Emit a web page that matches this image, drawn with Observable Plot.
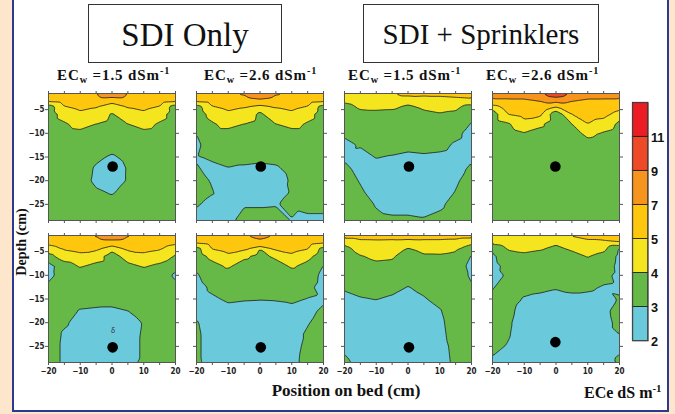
<!DOCTYPE html>
<html><head><meta charset="utf-8">
<script src="https://cdn.jsdelivr.net/npm/d3@7"></script>
<script src="https://cdn.jsdelivr.net/npm/@observablehq/plot@0.6"></script>
<style>
body{margin:0;background:#fde6cb;}
#wrap{position:relative;width:675px;height:414px;overflow:hidden;background:#fde6cb;font-family:"Liberation Serif","Times New Roman",serif;color:#111}
.abs{position:absolute;white-space:nowrap}
sub,sup{line-height:0;font-size:0.68em}
sub{vertical-align:-0.3em}
sup{vertical-align:0.55em}
.box{border:1px solid #333;background:#fff;box-sizing:border-box}
.ptitle{font-weight:bold;font-size:15px;line-height:15px;letter-spacing:0.9px}
</style></head><body>
<div id="wrap">
  <div class="abs" style="left:12px;top:-10px;width:653px;height:418px;background:#fff;border:2px solid #2b3990"></div>
  <div class="abs box" style="left:88px;top:4px;width:194px;height:59px"></div>
  <div class="abs box" style="left:363px;top:4px;width:236px;height:59px"></div>
  <div class="abs" id="t1" style="left:185px;top:19px;font-size:33px;line-height:33px;transform:translateX(-50%)"></div>
  <div class="abs" id="t2" style="left:481px;top:20px;font-size:29px;line-height:29px;transform:translateX(-50%)"></div>
  <div class="abs" id="chart" style="left:0;top:0"></div>
  <div class="abs" id="cbar" style="left:625px;top:95px"></div>
  <div id="titles"></div>
  <div class="abs" id="ylab" style="left:22px;top:242px;transform:translate(-50%,-50%) rotate(-90deg);font-weight:bold;font-size:14px;line-height:14px"></div>
  <div class="abs" id="xlab" style="left:346px;top:382px;transform:translateX(-50%);font-weight:bold;font-size:17px;line-height:17px"></div>
  <div class="abs" id="clab" style="left:584px;top:385px;font-weight:bold;font-size:16px;line-height:16px"></div>
</div>
<script>
// ---- data ----
const groupTitles = ["SDI Only", "SDI + Sprinklers"];
const ecwValues = ["1.5", "2.6", "1.5", "2.6"];
const xAxisTitle = "Position on bed (cm)";
const yAxisTitle = "Depth (cm)";
const colorTitle = "ECe dS m";

const cols = [-20, -15, -10, -5, 0, 5, 10, 15, 20];           // position on bed (cm)
const rows = [-1.6, -3, -4.5, -6, -8, -10, -12.5, -15, -17.5, -20, -22.5, -25, -28.4]; // depth (cm)

const xTicks = [-20, -15, -10, -5, 0, 5, 10, 15, 20];
const xLabelTicks = [-20, -10, 0, 10, 20];
const yTicks = [-5, -10, -15, -20, -25];

const levels = [2, 3, 4, 5, 7, 9, 11];
const levelLabels = ["2", "3", "4", "5", "7", "9", "11"];
const colors = ["#6ac9da", "#66b946", "#f4e51f", "#fec70e", "#f7941e", "#ef4a27", "#ec1c24"];

// ECe (dS/m) grids, rows = depth, cols = position
const p1 = [
[6.0,6.1,6.3,7.0,9.3,7.0,6.3,6.1,6.0],
[5.4,5.6,5.8,6.0,5.4,6.0,5.8,5.6,5.4],
[3.4,4.9,5.2,5.0,4.5,5.0,5.2,4.9,3.4],
[3.5,4.4,4.8,4.7,3.9,4.7,4.8,4.4,3.5],
[3.5,3.9,4.3,4.0,3.7,4.0,4.3,3.9,3.5],
[3.5,3.7,3.8,3.7,3.6,3.7,3.8,3.7,3.5],
[3.5,3.5,3.6,3.5,3.3,3.5,3.6,3.5,3.5],
[3.5,3.5,3.5,3.15,2.9,3.2,3.4,3.5,3.5],
[3.5,3.5,3.4,2.9,2.6,3.05,3.3,3.5,3.5],
[3.5,3.5,3.3,2.85,2.7,3.05,3.3,3.5,3.5],
[3.5,3.5,3.4,3.1,2.95,3.2,3.4,3.5,3.5],
[3.5,3.5,3.5,3.3,3.2,3.3,3.5,3.5,3.5],
[3.5,3.5,3.5,3.4,3.4,3.4,3.5,3.5,3.5]];
const p2 = [
[6.0,6.1,6.4,7.3,9.2,7.3,6.4,6.1,6.0],
[5.4,5.6,5.8,6.0,6.6,6.0,5.8,5.6,5.4],
[3.5,4.9,5.2,5.0,4.4,5.0,5.2,4.9,3.5],
[3.4,4.4,4.8,4.7,3.8,4.7,4.8,4.4,3.5],
[3.3,3.9,4.3,4.0,3.7,4.0,4.3,3.9,3.5],
[3.02,3.7,3.7,3.6,3.6,3.6,3.7,3.7,3.5],
[2.8,3.5,3.4,3.4,3.4,3.4,3.5,3.5,3.5],
[2.95,3.1,3.2,3.2,3.15,3.2,3.4,3.4,3.4],
[3.05,2.85,2.97,2.9,2.85,2.9,3.2,3.3,3.3],
[3.2,2.95,2.7,2.6,2.55,2.65,3.1,3.3,3.3],
[3.2,3.03,2.7,2.7,2.7,2.75,3.05,3.3,3.3],
[3.05,2.85,2.8,2.95,2.95,2.97,3.1,3.2,3.2],
[2.8,2.7,2.85,3.2,3.2,3.2,2.98,2.85,2.85]];
const p3 = [
[4.6,4.7,4.8,4.9,5.4,5.3,5.3,5.4,5.5],
[4.2,4.4,4.5,4.4,4.3,4.5,4.6,4.7,4.8],
[3.7,4.1,4.15,4.1,3.85,4.1,4.2,4.15,3.6],
[3.5,3.8,3.8,3.8,3.7,3.85,3.95,3.85,3.35],
[3.3,3.6,3.6,3.6,3.5,3.6,3.6,3.5,2.95],
[3.1,3.3,3.5,3.5,3.4,3.45,3.4,3.2,2.7],
[2.85,3.05,3.3,3.3,3.2,3.25,3.2,2.9,2.7],
[2.9,2.8,3.03,2.95,2.85,2.9,2.85,2.75,2.9],
[3.15,2.8,2.8,2.7,2.6,2.65,2.7,2.8,3.1],
[3.3,2.95,2.6,2.5,2.5,2.55,2.65,2.9,3.3],
[3.4,3.1,2.75,2.55,2.55,2.6,2.7,3.03,3.4],
[3.4,3.3,2.95,2.8,2.8,2.8,2.9,3.2,3.4],
[3.4,3.4,3.15,3.1,3.1,3.05,3.15,3.3,3.4]];
const p4 = [
[7.6,7.9,8.0,8.6,10.5,8.6,8.0,7.9,7.6],
[6.8,6.8,6.8,7.2,7.9,7.2,6.8,6.8,6.8],
[4.3,5.6,5.8,6.0,4.8,6.0,5.9,5.8,5.3],
[3.5,5.0,5.3,5.2,3.3,5.0,5.4,5.3,4.6],
[3.5,3.9,4.7,4.2,3.4,4.0,5.0,4.6,3.8],
[3.5,3.6,3.95,3.7,3.5,3.7,4.2,3.9,3.6],
[3.5,3.5,3.6,3.6,3.5,3.6,3.7,3.6,3.5],
[3.5,3.5,3.5,3.5,3.5,3.5,3.5,3.5,3.5],
[3.5,3.5,3.5,3.5,3.5,3.5,3.5,3.5,3.5],
[3.5,3.5,3.5,3.5,3.5,3.5,3.5,3.5,3.5],
[3.5,3.5,3.5,3.5,3.5,3.5,3.5,3.5,3.5],
[3.5,3.5,3.5,3.5,3.5,3.5,3.5,3.5,3.5],
[3.5,3.5,3.5,3.5,3.5,3.5,3.5,3.5,3.5]];
const p5 = [
[6.0,6.2,6.4,7.2,9.3,7.2,6.4,6.2,6.0],
[5.2,5.4,5.7,5.8,5.9,5.8,5.7,5.4,5.2],
[4.7,5.05,5.2,5.15,4.2,5.15,5.2,5.05,4.6],
[3.6,4.6,4.8,4.4,3.6,4.4,4.8,4.6,3.9],
[2.7,3.5,4.1,3.8,3.6,3.8,4.1,3.8,3.3],
[2.75,3.4,3.5,3.5,3.5,3.5,3.5,3.4,2.85],
[3.2,3.4,3.4,3.4,3.4,3.4,3.4,3.35,3.2],
[3.4,3.4,3.3,3.25,3.2,3.3,3.4,3.4,3.4],
[3.4,3.3,2.95,2.9,2.9,3.0,3.3,3.4,3.4],
[3.4,3.1,2.75,2.65,2.6,2.7,3.05,3.4,3.4],
[3.4,2.9,2.7,2.6,2.5,2.65,3.1,3.4,3.4],
[3.4,2.85,2.7,2.6,2.5,2.7,3.1,3.4,3.4],
[3.4,2.85,2.75,2.7,2.6,2.85,3.1,3.4,3.4]];
const p6 = [
[5.8,6.3,6.5,6.8,7.6,6.8,6.5,6.3,5.8],
[5.2,5.5,5.8,6.0,6.55,6.0,5.8,5.5,5.2],
[3.6,5.0,5.3,5.1,3.97,5.1,5.3,5.0,3.6],
[3.5,4.3,4.8,4.2,3.7,4.2,4.8,4.3,3.4],
[3.2,3.7,4.15,3.6,3.5,3.6,4.15,3.7,2.98],
[2.9,3.5,3.6,3.45,3.4,3.45,3.6,3.5,2.75],
[2.7,3.15,3.4,3.3,3.3,3.3,3.4,3.2,2.7],
[2.7,2.9,3.1,3.05,3.03,3.05,3.1,2.98,2.9],
[2.85,2.7,2.8,2.75,2.7,2.75,2.85,2.85,3.1],
[3.05,2.7,2.6,2.55,2.5,2.55,2.7,2.95,3.3],
[3.1,2.75,2.6,2.55,2.5,2.55,2.75,3.1,3.4],
[3.1,2.75,2.6,2.55,2.5,2.55,2.7,3.2,3.4],
[3.1,2.8,2.6,2.55,2.5,2.55,2.75,3.3,3.4]];
const p7 = [
[5.5,5.5,5.5,5.5,5.6,5.5,5.5,5.5,5.5],
[4.3,4.7,4.75,4.7,4.6,4.7,4.7,4.6,4.2],
[3.7,4.3,4.45,4.4,3.9,4.2,4.25,4.1,3.6],
[3.5,3.95,4.15,4.1,3.6,3.9,3.9,3.8,2.95],
[3.5,3.7,3.85,3.8,3.4,3.6,3.6,3.55,2.7],
[3.4,3.5,3.5,3.5,3.2,3.4,3.5,3.5,2.85],
[3.1,3.25,3.3,3.2,2.98,3.15,3.4,3.45,3.1],
[2.8,2.95,3.02,2.9,2.8,2.95,3.2,3.45,3.4],
[2.7,2.7,2.75,2.6,2.5,2.7,2.95,3.4,3.4],
[2.7,2.65,2.6,2.55,2.5,2.6,2.85,3.35,3.4],
[2.75,2.65,2.6,2.55,2.5,2.6,2.8,3.3,3.4],
[2.9,2.7,2.6,2.55,2.5,2.6,2.75,3.2,3.4],
[3.1,2.85,2.6,2.55,2.5,2.6,2.7,3.15,3.4]];
const p8 = [
[4.8,4.8,4.8,4.85,4.9,5.05,5.3,5.5,5.6],
[4.3,4.5,4.6,4.5,4.15,4.6,4.8,4.8,5.0],
[3.3,4.05,4.2,4.05,3.8,4.1,4.45,4.2,2.9],
[2.8,3.7,3.8,3.75,3.6,3.7,4.05,3.7,2.8],
[2.7,3.3,3.6,3.6,3.5,3.55,3.6,3.5,2.75],
[2.75,3.1,3.4,3.4,3.35,3.4,3.4,3.2,2.8],
[2.95,3.3,3.2,3.15,3.05,3.15,3.1,2.95,2.9],
[3.2,3.3,2.95,2.85,2.8,2.85,2.85,2.8,3.05],
[3.3,3.2,2.7,2.6,2.55,2.6,2.7,2.8,3.3],
[3.3,3.1,2.65,2.6,2.55,2.6,2.7,2.75,3.2],
[3.3,3.05,2.65,2.6,2.55,2.6,2.7,2.75,3.0],
[3.15,2.95,2.65,2.6,2.55,2.6,2.7,2.75,2.9],
[2.9,2.8,2.7,2.6,2.55,2.6,2.7,2.75,3.1]];
const panels = [p1, p2, p3, p4, p5, p6, p7, p8];

// emitter positions per panel
const emitterX = [0.2, 0.25, 0.3, -0.2, 0.2, 0.25, 0.3, -0.2];
const emitterY = [-17, -17, -17, -17, -25.2, -25.2, -25.2, -24.1];

// ---- build tables ----
const grid = [];
panels.forEach((g, k) => g.forEach((r, i) => r.forEach((v, j) =>
  grid.push({fx: k % 4, fy: Math.floor(k / 4), x: cols[j], y: rows[i], v}))));
const emitters = emitterX.map((x, k) => ({fx: k % 4, fy: Math.floor(k / 4), x, y: emitterY[k]}));

const colorScale = {type: "threshold", domain: levels.slice(1), range: colors};
const tickFont = {fontFamily: "DejaVu Sans Condensed, Liberation Sans Narrow, sans-serif", fontSize: 8, fontWeight: "bold"};
const blank = () => "";

const chart = Plot.plot({
  width: 675, height: 414,
  marginLeft: 47, marginRight: 55, marginTop: 93, marginBottom: 52,
  style: {background: "transparent", overflow: "visible"},
  fx: {domain: [0, 1, 2, 3], axis: null, paddingInner: 0.14, paddingOuter: 0},
  fy: {domain: [0, 1], axis: null, paddingInner: 0.106, paddingOuter: 0},
  x: {domain: [-20, 20]},
  y: {domain: [-28.4, -1.6]},
  color: colorScale,
  marks: [
    Plot.contour(grid, {x: "x", y: "y", fill: "v", fx: "fx", fy: "fy", interpolate: "barycentric",
      thresholds: levels, stroke: "#1a1a1a", strokeWidth: 0.8}),
    Plot.frame({stroke: "#555"}),
    Plot.dot(emitters, {x: "x", y: "y", fx: "fx", fy: "fy", r: 5.3, fill: "black"}),
    Plot.text([{fx: 0, fy: 1, x: 0.3, y: -21.8}], {x: "x", y: "y", fx: "fx", fy: "fy", text: () => "δ", fontSize: 7, fill: "#333"}),
    Plot.axisX(xTicks, {anchor: "top", facetAnchor: null, tickSize: 3, tickFormat: blank, label: null, stroke: "#555"}),
    Plot.axisX(xTicks, {anchor: "bottom", facetAnchor: null, tickSize: 3, tickFormat: blank, label: null, stroke: "#555"}),
    Plot.axisY(yTicks, {anchor: "left", facetAnchor: null, tickSize: 3, tickFormat: blank, label: null, stroke: "#555"}),
    Plot.axisY(yTicks, {anchor: "right", facetAnchor: null, tickSize: 3, tickFormat: blank, label: null, stroke: "#555"}),
    Plot.axisX(xLabelTicks, {anchor: "bottom", facetAnchor: "bottom", tickSize: 0, tickPadding: 6, label: null, ...tickFont, fill: "#222"}),
    Plot.axisY(yTicks, {anchor: "left", facetAnchor: "left", tickSize: 0, tickPadding: 4, label: null, ...tickFont, fill: "#222"})
  ]
});
document.getElementById("chart").appendChild(chart);

const cbar = Plot.plot({
  width: 55, height: 285, marginLeft: 8, marginRight: 30, marginTop: 8, marginBottom: 15,
  style: {background: "transparent", overflow: "visible"},
  x: {domain: [0, 1], axis: null},
  y: {domain: [0, levels.length], axis: null},
  color: colorScale,
  marks: [
    Plot.rect(levels, {x1: () => 0, x2: () => 1, y1: (d, i) => i, y2: (d, i) => i + 1, fill: d => d, stroke: "#111", strokeWidth: 0.8}),
    Plot.frame({stroke: "#444"}),
    Plot.text(levelLabels, {x: () => 1, y: (d, i) => i, text: d => d, dx: 3, dy: 1, textAnchor: "start",
      fontSize: 14, fontWeight: "bold", fontFamily: "Liberation Sans, Arial, sans-serif", fill: "#111"})
  ]
});
document.getElementById("cbar").appendChild(cbar);

// ---- texts ----
document.getElementById("t1").textContent = groupTitles[0];
document.getElementById("t2").textContent = groupTitles[1];
document.getElementById("ylab").textContent = yAxisTitle;
document.getElementById("xlab").textContent = xAxisTitle;
document.getElementById("clab").innerHTML = colorTitle + "<sup>-1</sup>";
const titleLeft = [57, 204, 348, 486];
const tdiv = document.getElementById("titles");
ecwValues.forEach((v, i) => {
  const d = document.createElement("div");
  d.className = "abs ptitle";
  d.style.left = titleLeft[i] + "px";
  d.style.top = "68px";
  d.innerHTML = `EC<sub>w</sub> =${v} dSm<sup>-1</sup>`;
  tdiv.appendChild(d);
});
</script>
</body></html>
